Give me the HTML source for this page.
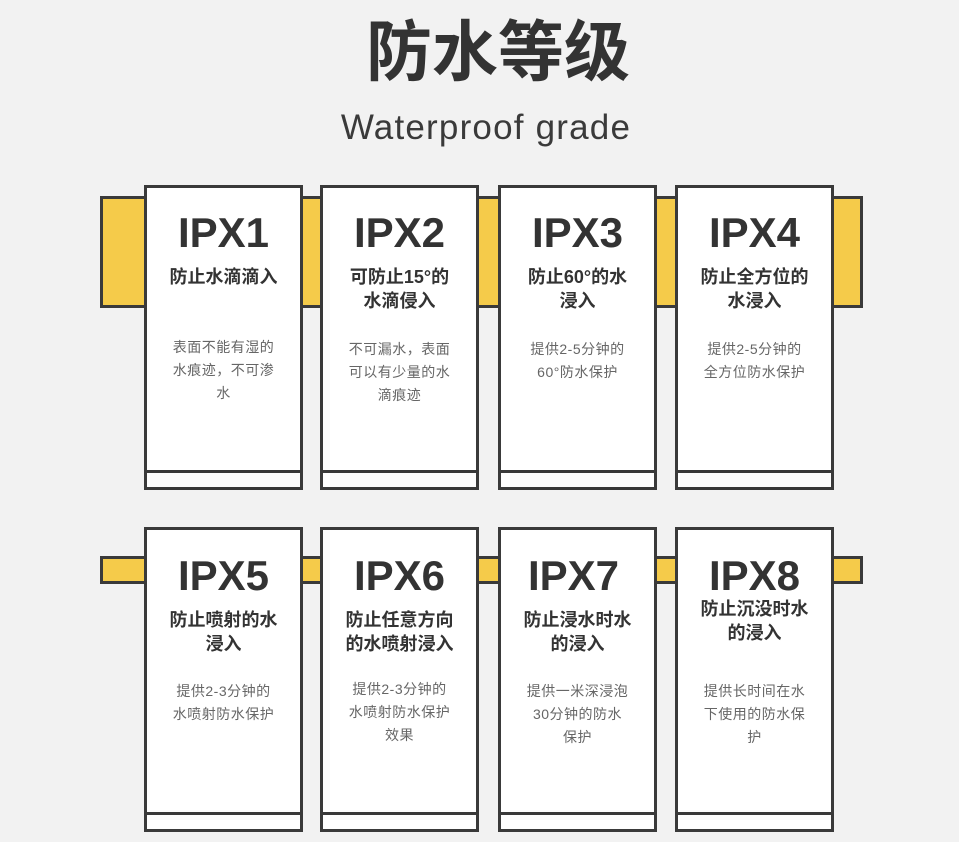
<!DOCTYPE html>
<html><head><meta charset="utf-8"><style>
body{margin:0;width:959px;height:842px;background:#f2f2f2;position:relative;overflow:hidden;font-family:"Liberation Sans","Noto Sans CJK SC",sans-serif;color:#333}
.abs{position:absolute}
.band{position:absolute;background:#f5cb4a;border:3px solid #3a3a3a;box-sizing:border-box}
.card{position:absolute;width:159px;height:305px;background:#fff;border:3px solid #3a3a3a;box-sizing:border-box}
.strip{position:absolute;left:0;right:0;bottom:14px;border-top:3px solid #3a3a3a}
.ipx{position:absolute;left:0;right:0;text-align:center;font-weight:bold;font-size:42px;line-height:43px;color:#333}
.sub{position:absolute;left:0;right:0;text-align:center;font-weight:bold;font-size:18px;line-height:24px;color:#333}
.desc{position:absolute;left:0;right:0;text-align:center;font-size:14px;line-height:23px;color:#666;letter-spacing:0.5px}
</style></head><body>
<div class="abs" style="left:0;width:996px;top:14px;text-align:center;font-size:66px;line-height:76px;font-weight:bold;color:#333">防水等级</div>
<div class="abs" style="left:0;width:972px;top:106px;text-align:center;font-size:35px;line-height:44px;color:#3a3a3a;letter-spacing:1.2px">Waterproof grade</div>

<div class="band" style="left:100px;top:196px;width:763px;height:112px"></div>
<div class="band" style="left:100px;top:556px;width:763px;height:28px"></div>

<div class="card" style="left:144px;top:185px"><div class="strip"></div>
<div class="ipx" style="top:23px">IPX1</div>
<div class="sub" style="top:77px">防止水滴滴入</div>
<div class="desc" style="top:148px">表面不能有湿的<br>水痕迹，不可渗<br>水</div></div>

<div class="card" style="left:320px;top:185px"><div class="strip"></div>
<div class="ipx" style="top:23px">IPX2</div>
<div class="sub" style="top:77px">可防止15°的<br>水滴侵入</div>
<div class="desc" style="top:150px">不可漏水，表面<br>可以有少量的水<br>滴痕迹</div></div>

<div class="card" style="left:498px;top:185px"><div class="strip"></div>
<div class="ipx" style="top:23px">IPX3</div>
<div class="sub" style="top:77px">防止60°的水<br>浸入</div>
<div class="desc" style="top:150px">提供2-5分钟的<br>60°防水保护</div></div>

<div class="card" style="left:675px;top:185px"><div class="strip"></div>
<div class="ipx" style="top:23px">IPX4</div>
<div class="sub" style="top:77px">防止全方位的<br>水浸入</div>
<div class="desc" style="top:150px">提供2-5分钟的<br>全方位防水保护</div></div>

<div class="card" style="left:144px;top:527px"><div class="strip"></div>
<div class="ipx" style="top:24px">IPX5</div>
<div class="sub" style="top:78px">防止喷射的水<br>浸入</div>
<div class="desc" style="top:150px">提供2-3分钟的<br>水喷射防水保护</div></div>

<div class="card" style="left:320px;top:527px"><div class="strip"></div>
<div class="ipx" style="top:24px">IPX6</div>
<div class="sub" style="top:78px">防止任意方向<br>的水喷射浸入</div>
<div class="desc" style="top:148px">提供2-3分钟的<br>水喷射防水保护<br>效果</div></div>

<div class="card" style="left:498px;top:527px"><div class="strip"></div>
<div class="ipx" style="top:24px;left:-8px">IPX7</div>
<div class="sub" style="top:78px">防止浸水时水<br>的浸入</div>
<div class="desc" style="top:150px">提供一米深浸泡<br>30分钟的防水<br>保护</div></div>

<div class="card" style="left:675px;top:527px"><div class="strip"></div>
<div class="ipx" style="top:24px">IPX8</div>
<div class="sub" style="top:67px">防止沉没时水<br>的浸入</div>
<div class="desc" style="top:150px">提供长时间在水<br>下使用的防水保<br>护</div></div>
</body></html>
